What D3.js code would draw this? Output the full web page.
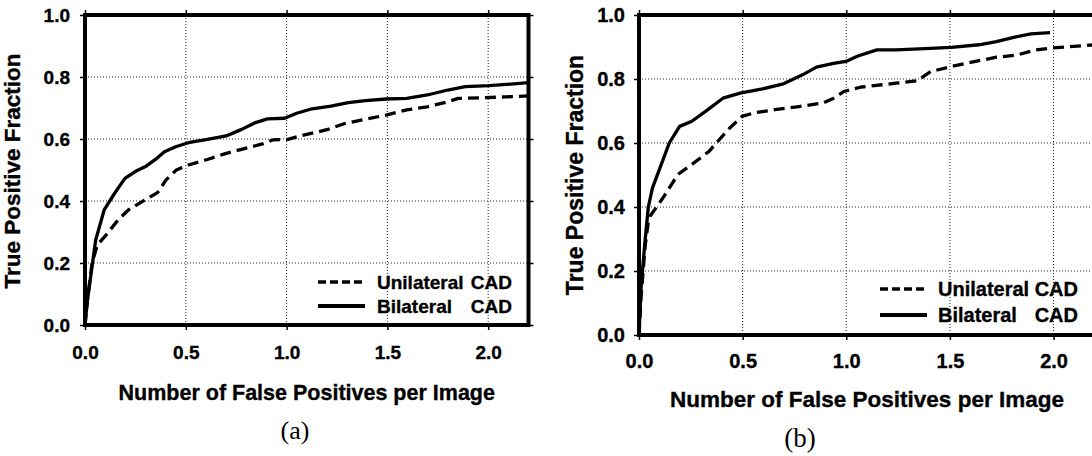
<!DOCTYPE html>
<html>
<head>
<meta charset="utf-8">
<script src="https://cdn.jsdelivr.net/npm/d3@7"></script>
<style>
  html, body { margin: 0; padding: 0; background: #fff; }
  svg { display: block; }
  text { font-family: "Liberation Sans", Arial, sans-serif; font-weight: bold; fill: #000; stroke: #000; stroke-width: 0.35px; }
  .caption { font-family: "Liberation Serif", "Times New Roman", serif; font-weight: normal; stroke: none; }
</style>
</head>
<body>
<svg id="chart" width="1092" height="456"></svg>
<script>
// tick values shared by both panels
var xTicks = [0, 0.5, 1.0, 1.5, 2.0];
var yTicks = [0, 0.2, 0.4, 0.6, 0.8, 1.0];
var seriesNames = ['Unilateral', 'Bilateral'];

// (a) FP per image vs TPF
var uniA = [[0,0],[0.012,0.08],[0.035,0.2],[0.061,0.258],[0.112,0.296],[0.164,0.339],[0.215,0.371],
  [0.283,0.398],[0.36,0.427],[0.402,0.468],[0.453,0.50],[0.513,0.516],[0.607,0.534],[0.692,0.552],
  [0.795,0.57],[0.88,0.584],[0.931,0.597],[1.007,0.599],[1.067,0.61],[1.136,0.62],[1.205,0.631],
  [1.289,0.65],[1.391,0.664],[1.494,0.677],[1.596,0.694],[1.698,0.704],[1.783,0.717],[1.851,0.731],
  [1.97,0.733],[2.09,0.736],[2.2,0.739]];
var biA = [[0,0],[0.012,0.08],[0.053,0.274],[0.095,0.371],[0.147,0.425],[0.198,0.473],[0.249,0.495],
  [0.30,0.511],[0.351,0.535],[0.394,0.559],[0.45,0.575],[0.513,0.588],[0.607,0.599],[0.70,0.61],
  [0.777,0.631],[0.846,0.653],[0.905,0.665],[0.99,0.667],[1.05,0.683],[1.118,0.696],[1.22,0.706],
  [1.306,0.717],[1.391,0.724],[1.494,0.729],[1.596,0.731],[1.698,0.742],[1.80,0.758],[1.886,0.769],
  [2.005,0.772],[2.09,0.776],[2.2,0.782]];

// (b)
var uniB = [[0,0],[0.01,0.12],[0.03,0.28],[0.045,0.355],[0.054,0.372],[0.085,0.40],[0.121,0.434],
  [0.188,0.502],[0.255,0.533],[0.338,0.574],[0.388,0.611],[0.438,0.647],[0.497,0.683],[0.555,0.694],
  [0.655,0.704],[0.772,0.714],[0.889,0.725],[0.939,0.74],[0.989,0.761],[1.072,0.775],[1.173,0.782],
  [1.24,0.787],[1.34,0.794],[1.407,0.823],[1.507,0.839],[1.624,0.855],[1.724,0.868],[1.824,0.875],
  [1.908,0.89],[1.991,0.897],[2.2,0.907]];
var biB = [[0,0],[0.01,0.15],[0.03,0.30],[0.045,0.40],[0.065,0.46],[0.104,0.527],[0.146,0.60],
  [0.196,0.652],[0.255,0.668],[0.321,0.699],[0.405,0.74],[0.488,0.756],[0.589,0.768],[0.697,0.785],
  [0.789,0.813],[0.856,0.837],[0.939,0.849],[0.998,0.855],[1.056,0.872],[1.148,0.891],[1.24,0.891],
  [1.407,0.896],[1.507,0.899],[1.64,0.907],[1.724,0.917],[1.808,0.93],[1.891,0.941],[1.983,0.945]];

var svg = d3.select('#chart');
var fmt = d3.format('.1f');

function drawPanel(p) {
  var x = d3.scaleLinear().domain([0, 2.2]).range([p.left, p.right]);
  var y = d3.scaleLinear().domain([0, 1]).range([p.bottom, p.top]);
  var g = svg.append('g');

  var clipId = 'clip-' + p.id;
  g.append('clipPath').attr('id', clipId)
    .append('rect')
    .attr('x', p.left).attr('y', p.top)
    .attr('width', p.right - p.left).attr('height', p.bottom - p.top);

  // dotted grid
  g.selectAll('.gx').data(xTicks.filter(function(d) { return d > 0; }))
    .enter().append('line')
    .attr('x1', function(d) { return x(d); }).attr('x2', function(d) { return x(d); })
    .attr('y1', p.top).attr('y2', p.bottom)
    .attr('stroke', '#222').attr('stroke-width', 1).attr('stroke-dasharray', '1,2');
  g.selectAll('.gy').data(yTicks.filter(function(d) { return d > 0 && d < 1; }))
    .enter().append('line')
    .attr('x1', p.left).attr('x2', p.right)
    .attr('y1', function(d) { return y(d); }).attr('y2', function(d) { return y(d); })
    .attr('stroke', '#222').attr('stroke-width', 1).attr('stroke-dasharray', '1,2');

  // axes
  g.append('g').attr('transform', 'translate(0,' + p.bottom + ')')
    .call(d3.axisBottom(x).tickValues(xTicks).tickFormat(fmt).tickSizeInner(5).tickSizeOuter(0).tickPadding(p.xPad));
  g.append('g').attr('transform', 'translate(' + p.left + ',0)')
    .call(d3.axisLeft(y).tickValues(yTicks).tickFormat(fmt).tickSizeInner(5).tickSizeOuter(0).tickPadding(p.yPad));
  g.append('g').attr('transform', 'translate(0,' + p.top + ')')
    .call(d3.axisTop(x).tickValues(xTicks).tickFormat('').tickSizeInner(5).tickSizeOuter(0));
  g.append('g').attr('transform', 'translate(' + p.right + ',0)')
    .call(d3.axisRight(y).tickValues(yTicks).tickFormat('').tickSizeInner(5).tickSizeOuter(0));
  g.selectAll('.domain').remove();
  g.selectAll('.tick line').attr('stroke', '#000').attr('stroke-width', 1.5);
  g.selectAll('.tick text').attr('font-size', p.tickSize).attr('font-family', '"Liberation Sans", Arial, sans-serif')
    .attr('font-weight', 'bold');

  // curves
  var line = d3.line().x(function(d) { return x(d[0]); }).y(function(d) { return y(d[1]); });
  var curves = g.append('g').attr('clip-path', 'url(#' + clipId + ')');
  curves.append('path').datum(p.uni).attr('d', line)
    .attr('fill', 'none').attr('stroke', '#000').attr('stroke-width', 3.3)
    .attr('stroke-dasharray', '11,6').attr('stroke-linejoin', 'round');
  curves.append('path').datum(p.bi).attr('d', line)
    .attr('fill', 'none').attr('stroke', '#000').attr('stroke-width', 3.3)
    .attr('stroke-linejoin', 'round');

  // frame
  g.append('rect')
    .attr('x', p.left).attr('y', p.top)
    .attr('width', p.right - p.left).attr('height', p.bottom - p.top)
    .attr('fill', 'none').attr('stroke', '#000').attr('stroke-width', 4);

  // legend
  var lg = p.legend;
  g.append('line').attr('x1', lg.x0).attr('x2', lg.x1).attr('y1', lg.y1).attr('y2', lg.y1)
    .attr('stroke', '#000').attr('stroke-width', 3.5).attr('stroke-dasharray', '8,4');
  g.append('line').attr('x1', lg.x0).attr('x2', lg.x1).attr('y1', lg.y2).attr('y2', lg.y2)
    .attr('stroke', '#000').attr('stroke-width', 4);
  [lg.y1, lg.y2].forEach(function(ly, i) {
    g.append('text').attr('x', lg.tx).attr('y', ly + lg.fs * 0.36)
      .attr('font-size', lg.fs).text(seriesNames[i]);
    g.append('text').attr('x', lg.tEnd).attr('y', ly + lg.fs * 0.36)
      .attr('font-size', lg.fs).attr('text-anchor', 'end').text('CAD');
  });

  // axis titles
  g.append('text').attr('x', (p.left + p.right) / 2).attr('y', p.xTitleY)
    .attr('text-anchor', 'middle').attr('font-size', p.xTitleSize)
    .text('Number of False Positives per Image');
  g.append('text')
    .attr('transform', 'translate(' + p.yTitleX + ',' + p.yTitleCY + ') rotate(-90)')
    .attr('text-anchor', 'middle').attr('font-size', p.yTitleSize)
    .text('True Positive Fraction');

  g.append('text').attr('class', 'caption').attr('x', p.capX).attr('y', p.capY)
    .attr('text-anchor', 'middle').attr('font-size', p.capSize).text(p.caption);
}

drawPanel({
  id: 'a', left: 85, right: 528.5, top: 15, bottom: 325, xPad: 16, yPad: 10, tickSize: 19,
  uni: uniA, bi: biA,
  legend: { x0: 318, x1: 365, y1: 282, y2: 306, tx: 377, tEnd: 512, fs: 19 },
  xTitleY: 400, xTitleSize: 21.5, yTitleX: 20, yTitleCY: 171, yTitleSize: 22.5,
  capX: 295, capY: 439, capSize: 26, caption: '(a)'
});

drawPanel({
  id: 'b', left: 639, right: 1095, top: 15, bottom: 335, xPad: 14, yPad: 9, tickSize: 20,
  uni: uniB, bi: biB,
  legend: { x0: 880, x1: 927, y1: 289, y2: 315, tx: 938, tEnd: 1078, fs: 20 },
  xTitleY: 407, xTitleSize: 22.5, yTitleX: 583, yTitleCY: 175, yTitleSize: 23,
  capX: 800, capY: 447, capSize: 27, caption: '(b)'
});
</script>
</body>
</html>
